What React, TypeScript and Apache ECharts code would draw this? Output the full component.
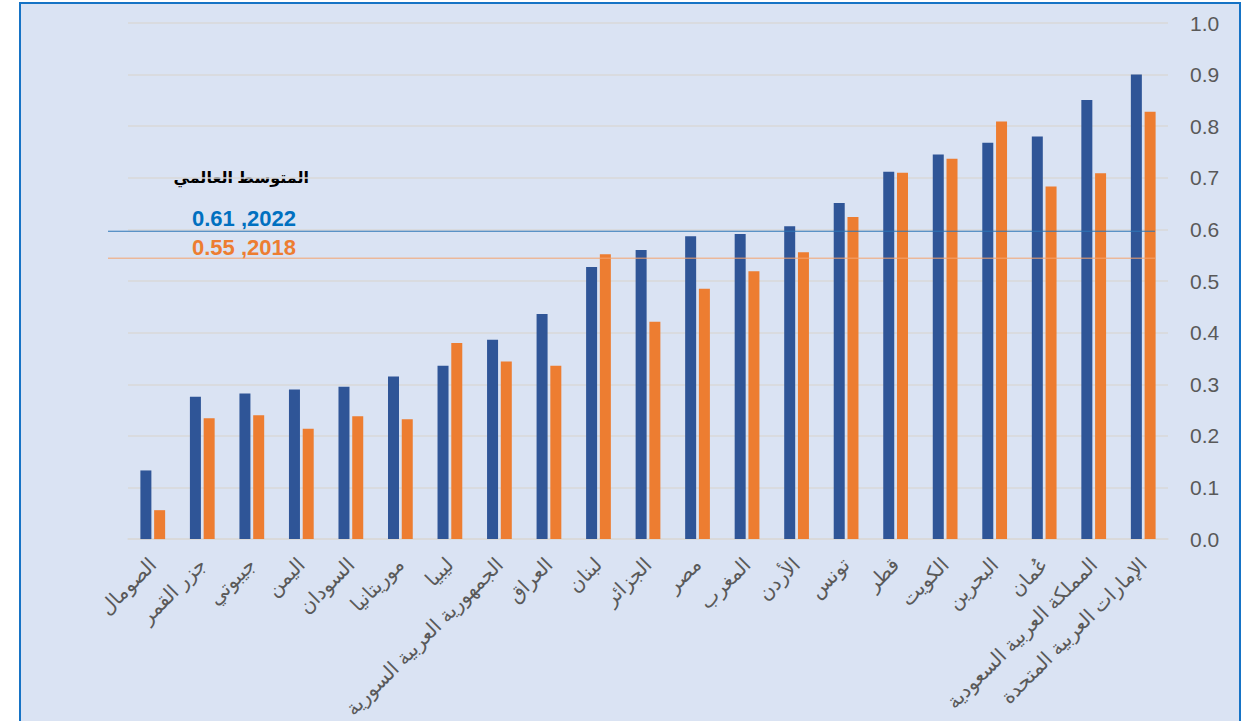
import React, { useEffect, useRef } from "react";
import * as echarts from "echarts";

const categories = [
  "الصومال",
  "جزر القمر",
  "جيبوتي",
  "اليمن",
  "السودان",
  "موريتانيا",
  "ليبيا",
  "الجمهورية العربية السورية",
  "العراق",
  "لبنان",
  "الجزائر",
  "مصر",
  "المغرب",
  "الأردن",
  "تونس",
  "قطر",
  "الكويت",
  "البحرين",
  "عُمان",
  "المملكة العربية السعودية",
  "الإمارات العربية المتحدة",
];

const values2022 = [
  0.133, 0.276, 0.282, 0.29, 0.295, 0.315, 0.336, 0.386, 0.436, 0.527, 0.56,
  0.587, 0.591, 0.606, 0.651, 0.712, 0.745, 0.768, 0.78, 0.851, 0.9,
];

const values2018 = [
  0.056, 0.234, 0.24, 0.214, 0.238, 0.232, 0.38, 0.344, 0.336, 0.552, 0.421,
  0.485, 0.519, 0.556, 0.624, 0.71, 0.737, 0.809, 0.683, 0.709, 0.828,
];

const seriesNames = ["2022", "2018"];
const refLineValues = [0.598, 0.546];
const annotationTitle = "المتوسط العالمي";
const annotationLabels = ["0.61 ,2022", "0.55 ,2018"];

const BLUE = "#2f5597";
const ORANGE = "#ed7d31";
const FONT = "'Liberation Sans', Arial, 'DejaVu Sans', sans-serif";

export default function App() {
  const ref = useRef<HTMLDivElement>(null);

  useEffect(() => {
    if (!ref.current) return;
    const chart = echarts.init(ref.current, null, { renderer: "svg" });
    chart.setOption({
      animation: false,
      backgroundColor: "#ffffff",
      textStyle: { fontFamily: FONT },
      graphic: [
        {
          type: "rect",
          z: -10,
          silent: true,
          shape: { x: 20, y: 3, width: 1220, height: 740 },
          style: { fill: "#dae3f3", stroke: "#1673c5", lineWidth: 2 },
        },
        {
          type: "text",
          x: 309,
          y: 177,
          style: {
            text: annotationTitle,
            align: "right",
            verticalAlign: "middle",
            fill: "#000000",
            font: `bold 16px ${FONT}`,
          },
        },
        {
          type: "text",
          x: 296,
          y: 218,
          style: {
            text: annotationLabels[0],
            align: "right",
            verticalAlign: "middle",
            fill: "#0070c0",
            font: `bold 22px ${FONT}`,
          },
        },
        {
          type: "text",
          x: 296,
          y: 247,
          style: {
            text: annotationLabels[1],
            align: "right",
            verticalAlign: "middle",
            fill: ORANGE,
            font: `bold 22px ${FONT}`,
          },
        },
      ],
      grid: [
        { left: 128, right: 80, top: 23, bottom: 180 },
        { left: 108, right: 93, top: 23, bottom: 180 },
      ],
      xAxis: [
        {
          type: "category",
          gridIndex: 0,
          data: categories,
          axisLine: { show: true, lineStyle: { color: "#d9d9d9", width: 1.5 } },
          axisTick: { show: false },
          axisLabel: {
            interval: 0,
            rotate: 45,
            fontSize: 20,
            color: "#595959",
            margin: 22,
            fontFamily: FONT,
          },
        },
        {
          type: "value",
          gridIndex: 1,
          min: 0,
          max: 1,
          show: false,
        },
      ],
      yAxis: [
        {
          type: "value",
          gridIndex: 0,
          position: "right",
          min: 0,
          max: 1,
          interval: 0.1,
          axisLine: { show: false },
          axisTick: { show: false },
          axisLabel: {
            fontSize: 21,
            color: "#595959",
            margin: 22,
            formatter: (v: number) => v.toFixed(1),
          },
          splitLine: { lineStyle: { color: "#d9d9d9", width: 1.5 } },
        },
        {
          type: "value",
          gridIndex: 1,
          min: 0,
          max: 1,
          show: false,
        },
      ],
      series: [
        {
          name: seriesNames[0],
          type: "bar",
          xAxisIndex: 0,
          yAxisIndex: 0,
          data: values2022,
          barWidth: 11,
          barGap: "25%",
          itemStyle: { color: BLUE },
        },
        {
          name: seriesNames[1],
          type: "bar",
          xAxisIndex: 0,
          yAxisIndex: 0,
          data: values2018,
          barWidth: 11,
          barGap: "25%",
          itemStyle: { color: ORANGE },
        },
        {
          type: "line",
          xAxisIndex: 1,
          yAxisIndex: 1,
          data: [
            [0, refLineValues[0]],
            [1, refLineValues[0]],
          ],
          symbol: "none",
          lineStyle: { color: "#2e75b6", width: 1 },
          z: 5,
        },
        {
          type: "line",
          xAxisIndex: 1,
          yAxisIndex: 1,
          data: [
            [0, refLineValues[1]],
            [1, refLineValues[1]],
          ],
          symbol: "none",
          lineStyle: { color: "#f4a36e", width: 1 },
          z: 5,
        },
      ],
    });
    return () => chart.dispose();
  }, []);

  return (
    <div
      style={{
        position: "fixed",
        left: 0,
        top: 0,
        width: 1248,
        height: 721,
        background: "#ffffff",
      }}
    >
      <div ref={ref} style={{ width: 1248, height: 721 }} />
    </div>
  );
}
